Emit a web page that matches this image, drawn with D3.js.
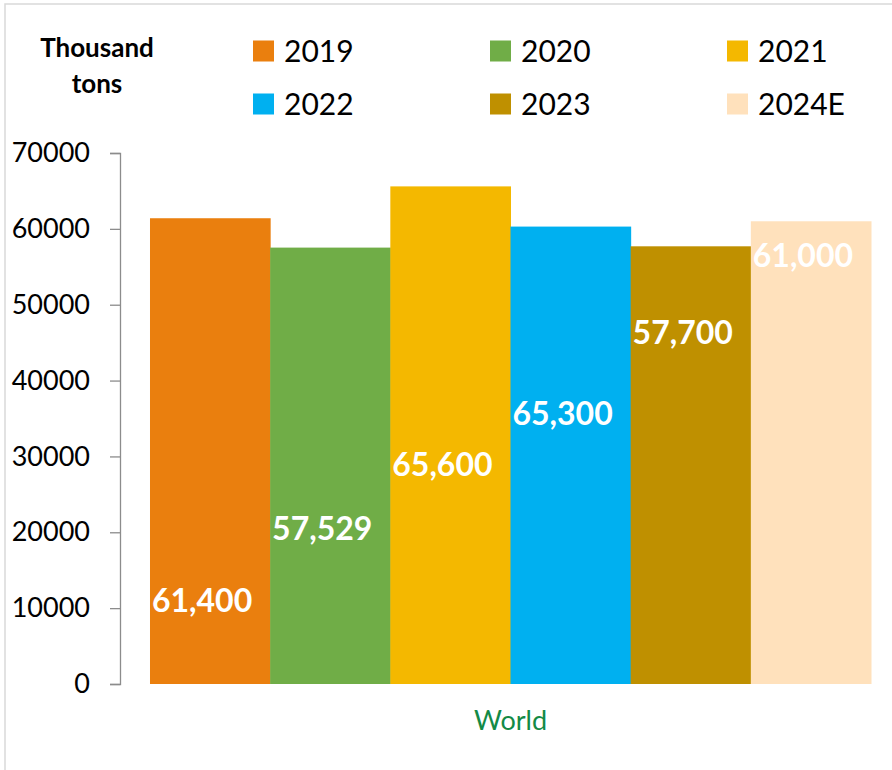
<!DOCTYPE html>
<html>
<head>
<meta charset="utf-8">
<script src="https://cdn.jsdelivr.net/npm/d3@7"></script>
<style>
  body { margin: 0; background: #fff; }
  svg { display: block; font-family: Lato, "Open Sans", sans-serif; }
</style>
</head>
<body>
<div id="chart"></div>
<script>
(function () {

  // Data
  const region = ["World"]
  const years = ["2019", "2020", "2021", "2022", "2023", "2024E"]
  const values = [61400, 57529, 65600, 60300, 57700, 61000]
  const labels = ["61,400", "57,529", "65,600", "65,300", "57,700", "61,000"]
  // where each data label sits, in axis units
  const labelAt = [11000, 20500, 28900, 35700, 46400, 56500]
  const colors = ["#EA7F0E", "#70AD47", "#F4B800", "#00B0F0", "#BF9000", "#FFE1BC"]
  const yTicks = [0, 10000, 20000, 30000, 40000, 50000, 60000, 70000]

  const W = 892, H = 770

  const svg = d3.select("#chart").append("svg")
      .attr("width", W)
      .attr("height", H)

  // Light frame round the chart
  svg.append("rect")
    .attr("x", 5).attr("y", 4)
    .attr("width", W + 20).attr("height", H + 20)
    .attr("fill", "none")
    .attr("stroke", "#d9d9d9")
    .attr("stroke-width", 1.5)

  // Scales
  const yScale = d3.scaleLinear()
    .domain([0, 70000])
    .range([684, 153])

  const x0 = d3.scaleBand()
    .domain(region)
    .range([120, 901])
    .paddingInner(0)
    .paddingOuter(0.0416)

  const x1 = d3.scaleBand()
    .domain(years)
    .range([0, x0.bandwidth()])
    .padding(0)

  const color = d3.scaleOrdinal().domain(years).range(colors)

  // Y axis
  const yAxis = svg.append("g")
    .attr("transform", "translate(120,0)")
    .call(d3.axisLeft(yScale).tickValues(yTicks).tickSize(10).tickPadding(20).tickFormat(d3.format("d")))
  yAxis.selectAll("path, line").attr("stroke", "#8c8c8c").attr("stroke-width", 1.3)
  yAxis.selectAll("text")
    .attr("font-size", 27)
    .attr("fill", "#000")
    .attr("font-family", "Lato, 'Open Sans', sans-serif")

  // Bars
  const rows = years.map((y, i) => ({ year: y, value: values[i], label: labels[i], at: labelAt[i] }))

  const group = svg.append("g")
    .attr("transform", `translate(${x0("World")},0)`)

  group.selectAll("rect")
    .data(rows)
    .join("rect")
    .attr("x", d => x1(d.year))
    .attr("width", x1.bandwidth() + 0.5)
    .attr("y", d => yScale(d.value))
    .attr("height", d => yScale(0) - yScale(d.value))
    .attr("fill", d => color(d.year))

  group.selectAll("text.val")
    .data(rows)
    .join("text")
    .attr("class", "val")
    .attr("x", d => x1(d.year) + x1.bandwidth() / 2 - 8)
    .attr("y", d => yScale(d.at))
    .attr("dy", "0.36em")
    .attr("text-anchor", "middle")
    .attr("font-size", 32)
    .attr("font-weight", "bold")
    .attr("fill", "#fff")
    .text(d => d.label)

  // Category label
  svg.append("text")
    .attr("x", x0("World") + x0.bandwidth() / 2)
    .attr("y", 730)
    .attr("text-anchor", "middle")
    .attr("font-size", 27)
    .attr("fill", "#138A46")
    .text("World")

  // Unit title
  const unit = svg.append("text")
    .attr("text-anchor", "middle")
    .attr("font-size", 26)
    .attr("font-weight", "bold")
    .attr("fill", "#000")
  unit.append("tspan").attr("x", 97).attr("y", 57).text("Thousand")
  unit.append("tspan").attr("x", 97).attr("y", 93).text("tons")

  // Legend, three columns by two rows
  const colX = [253, 490, 727]
  const rowY = [51, 104]
  const legend = svg.append("g")
    .selectAll("g")
    .data(years)
    .join("g")
    .attr("transform", (d, i) => `translate(${colX[i % 3]},${rowY[Math.floor(i / 3)]})`)

  legend.append("rect")
    .attr("x", 0).attr("y", -10.5)
    .attr("width", 21).attr("height", 21)
    .attr("fill", d => color(d))

  legend.append("text")
    .attr("x", 31)
    .attr("y", 0)
    .attr("dy", "0.36em")
    .attr("font-size", 30)
    .attr("fill", "#000")
    .text(d => d)

})();
</script>
</body>
</html>
